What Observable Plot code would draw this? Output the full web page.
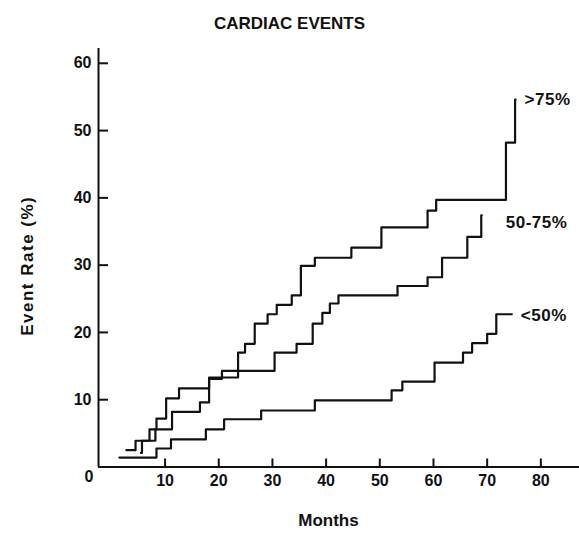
<!DOCTYPE html>
<html><head><meta charset="utf-8">
<script src="https://cdn.jsdelivr.net/npm/d3@7"></script>
<script src="https://cdn.jsdelivr.net/npm/@observablehq/plot@0.6"></script>
<style>html,body{margin:0;padding:0;background:#fff}#chart svg{display:block}</style>
</head><body><div id="chart"></div>
<script>
const title = "CARDIAC EVENTS";
const xLabel = "Months";
const yLabel = "Event Rate (%)";
const xTicks = [10, 20, 30, 40, 50, 60, 70, 80];
const yTicks = [10, 20, 30, 40, 50, 60];
const seriesNames = [">75%", "50-75%", "<50%"];

// >75% stenosis: step times (months) and cumulative event rate (%)
const monthsGt75 = [2.8, 4.5, 7.1, 8.4, 10.2, 12.6, 18.2, 23.6, 24.9, 26.7, 29.1, 30.8, 33.6, 35.3, 37.9, 44.7, 50.3, 58.9, 60.5, 73.5, 75.2];
const ratesGt75  = [2.5, 3.9, 5.6, 7.2, 10.2, 11.7, 13.3, 17.0, 18.3, 21.3, 22.7, 24.1, 25.5, 29.9, 31.1, 32.6, 35.6, 38.1, 39.7, 48.2, 54.6];
const endGt75 = 75.3;

// 50-75% stenosis
const months5075 = [5.5, 5.7, 8.2, 11.3, 16.5, 18.2, 20.6, 30.4, 34.5, 37.5, 39.3, 40.7, 42.3, 53.3, 58.9, 61.6, 66.3, 68.9];
const rates5075  = [2.1, 3.9, 5.6, 8.2, 9.6, 13.1, 14.3, 17.0, 18.3, 21.3, 22.9, 24.3, 25.5, 26.9, 28.2, 31.1, 34.2, 37.4];
const end5075 = 69.0;

// <50% stenosis
const monthsLt50 = [1.5, 8.4, 11.1, 17.6, 21.0, 27.9, 37.9, 52.2, 54.2, 60.2, 65.5, 67.2, 70.0, 71.7];
const ratesLt50  = [1.4, 2.75, 4.1, 5.6, 7.1, 8.4, 9.9, 11.4, 12.7, 15.5, 17.0, 18.4, 19.8, 22.7];
const endLt50 = 74.6;

const xDomain = [-2.4, 87.2];
const yDomain = [0, 62.2];

function rows(name, months, rates, end) {
  const r = months.map((m, i) => ({series: name, month: m, rate: rates[i]}));
  r.push({series: name, month: end, rate: rates[rates.length - 1]});
  return r;
}
const dGt75 = rows(seriesNames[0], monthsGt75, ratesGt75, endGt75);
const d5075 = rows(seriesNames[1], months5075, rates5075, end5075);
const dLt50 = rows(seriesNames[2], monthsLt50, ratesLt50, endLt50);
const all = [...dGt75, ...d5075, ...dLt50];

const font = "'Liberation Sans', Arial, Helvetica, sans-serif";
const ink = "#111";
const W = 579, H = 535, mL = 98, mR = 0, mT = 48, mB = 68.5;
const frameW = W - mL - mR, frameH = H - mT - mB;

const chart = Plot.plot({
  width: W, height: H,
  marginLeft: mL, marginRight: mR, marginTop: mT, marginBottom: mB,
  x: {domain: xDomain},
  y: {domain: yDomain},
  style: {fontFamily: font, fontWeight: "bold", fontSize: "16px", color: ink, background: "#fff", overflow: "visible"},
  marks: [
    Plot.ruleY([yDomain[0]], {stroke: ink, strokeWidth: 2}),
    Plot.ruleX([xDomain[0]], {stroke: ink, strokeWidth: 2}),
    Plot.tickY(yTicks, {y: d => d, insetRight: frameW - 10, stroke: ink, strokeWidth: 2}),
    Plot.tickX(xTicks, {x: d => d, insetTop: frameH - 8, stroke: ink, strokeWidth: 2}),
    Plot.axisY({ticks: yTicks, tickSize: 0, tickPadding: 7, label: null, fontSize: 16, fontWeight: "bold", fill: ink}),
    Plot.axisX({ticks: xTicks, tickSize: 0, tickPadding: 8, label: null, fontSize: 16, fontWeight: "bold", fill: ink}),
    Plot.text(["0"], {frameAnchor: "bottom-left", dx: -14, dy: 15, fontSize: 16, fontWeight: "bold", fill: ink}),
    Plot.text([title], {frameAnchor: "top", dx: -49.5, dy: -32, fontSize: 17, fontWeight: "bold", fill: ink}),
    Plot.text([xLabel], {frameAnchor: "bottom", dx: -10.5, dy: 58.5, fontSize: 17, fontWeight: "bold", fill: ink}),
    Plot.text([yLabel], {frameAnchor: "left", textAnchor: "middle", rotate: -90, dx: -71, dy: 8, fontSize: 17, fontWeight: "bold", fill: ink}),
    Plot.line(all, {x: "month", y: "rate", z: "series", curve: "step-after", stroke: ink, strokeWidth: 2.2}),
    Plot.text(dGt75, Plot.selectLast({x: "month", y: "rate", text: "series", textAnchor: "start", dx: 9, dy: 0, fontSize: 17, fontWeight: "bold", fill: ink})),
    Plot.text(d5075, Plot.selectLast({x: "month", y: "rate", text: "series", textAnchor: "start", dx: 24, dy: 7, fontSize: 17, fontWeight: "bold", fill: ink})),
    Plot.text(dLt50, Plot.selectLast({x: "month", y: "rate", text: "series", textAnchor: "start", dx: 9, dy: 1, fontSize: 17, fontWeight: "bold", fill: ink}))
  ]
});
d3.select(chart).selectAll("text").filter(function () { return this.textContent === yLabel; }).style("letter-spacing", "1.5px");
d3.select(chart).selectAll("text").filter(function () { return seriesNames.includes(this.textContent); }).style("letter-spacing", "0.5px");
document.getElementById("chart").appendChild(chart);
</script>
</body></html>
